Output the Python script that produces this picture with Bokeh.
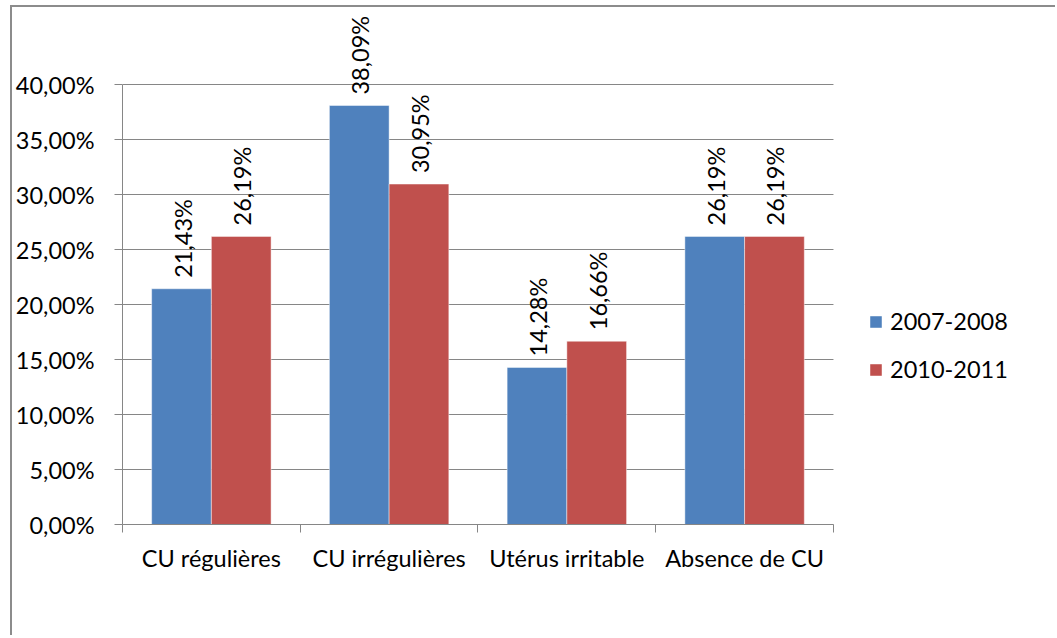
import math
from bokeh.plotting import figure
from bokeh.models import (Range1d, FixedTicker, CustomJSTickFormatter, ColumnDataSource,
                          Legend, LegendItem)
from bokeh.core.properties import value
from bokeh.embed import file_html
from bokeh.resources import INLINE

# ---- data ----
categories = ["CU régulières", "CU irrégulières", "Utérus irritable", "Absence de CU"]
series_names = ["2007-2008", "2010-2011"]
values_2007_2008 = [21.43, 38.09, 14.28, 26.19]
values_2010_2011 = [26.19, 30.95, 16.66, 26.19]
series_values = [values_2007_2008, values_2010_2011]
series_colors = ["#4F81BD", "#C0504D"]
y_ticks = [0, 5, 10, 15, 20, 25, 30, 35, 40]
y_max = 40

# ---- layout (pixels) ----
W, H = 1045, 630
LEFT, BOTTOM = 106, 113
FRAME_W = W - LEFT
FRAME_H = H - BOTTOM
PLOT_W = 714          # width of the category area
PLOT_H = 440          # height of 0..40 %
FONT = "Lato"
FS = "23.5px"
GRID = "#868686"

n = len(categories)
x_end = n * FRAME_W / PLOT_W
y_end = y_max * FRAME_H / PLOT_H

p = figure(width=W, height=H, output_backend="svg", toolbar_location=None,
           x_range=Range1d(0, x_end), y_range=Range1d(0, y_end),
           min_border_left=LEFT, min_border_right=0, min_border_top=0,
           min_border_bottom=BOTTOM)
p.outline_line_color = None
p.xgrid.visible = False
p.ygrid.visible = False
p.styles = {"border-left": "2px solid #8c8c8c", "border-top": "2px solid #8c8c8c",
            "margin-left": "10px", "margin-top": "5px"}

# gridlines limited to the category area
p.segment(x0=[0] * len(y_ticks), x1=[n] * len(y_ticks), y0=y_ticks, y1=y_ticks,
          line_color=GRID, line_width=1)

group_w = 0.672
bar_w = group_w / len(series_names)
renderers = []
for k, (name, vals, col) in enumerate(zip(series_names, series_values, series_colors)):
    xs = [i + 0.5 + (k - (len(series_names) - 1) / 2) * bar_w for i in range(n)]
    src = ColumnDataSource(dict(x=xs, top=vals,
                                label=[f"{v:.2f}".replace(".", ",") + "%" for v in vals]))
    r = p.vbar(x="x", top="top", bottom=0, width=bar_w, source=src,
               fill_color=col, line_color="white", line_alpha=0.45, line_width=1)
    renderers.append(r)
    p.text(x="x", y="top", text="label", source=src, angle=math.pi / 2,
           text_align="left", text_baseline="middle", y_offset=-11, x_offset=1,
           text_font=value(FONT), text_font_size=FS, text_color="black")

# y axis
ya = p.yaxis[0]
ya.ticker = FixedTicker(ticks=y_ticks, minor_ticks=[])
ya.formatter = CustomJSTickFormatter(code="return tick.toFixed(2).replace('.', ',') + '%';")
ya.bounds = (0, y_max)
ya.axis_line_color = GRID
ya.major_tick_line_color = GRID
ya.major_tick_out = 8
ya.major_tick_in = 0
ya.minor_tick_out = 0
ya.minor_tick_in = 0
ya.major_label_standoff = 20
ya.major_label_text_font = FONT
ya.major_label_text_font_size = FS
ya.major_label_text_color = "black"

# x axis
xa = p.xaxis[0]
xa.ticker = FixedTicker(ticks=[i + 0.5 for i in range(n)], minor_ticks=list(range(n + 1)))
xa.major_label_overrides = {i + 0.5: c for i, c in enumerate(categories)}
xa.bounds = (0, n)
xa.axis_line_color = GRID
xa.major_tick_out = 0
xa.major_tick_in = 0
xa.minor_tick_line_color = GRID
xa.minor_tick_out = 8
xa.minor_tick_in = 0
xa.major_label_standoff = 11
xa.major_label_text_font = FONT
xa.major_label_text_font_size = FS
xa.major_label_text_color = "black"

legend = Legend(items=[LegendItem(label=nm, renderers=[r]) for nm, r in zip(series_names, renderers)],
                location=(746, 141))
legend.glyph_width = 15
legend.glyph_height = 15
legend.label_standoff = 7
legend.spacing = 20
legend.padding = 0
legend.margin = 0
legend.border_line_color = None
legend.background_fill_alpha = 0
legend.label_text_font = FONT
legend.label_text_font_size = FS
legend.label_text_color = "black"
p.add_layout(legend)

open("out.html", "w").write(file_html(p, INLINE))
